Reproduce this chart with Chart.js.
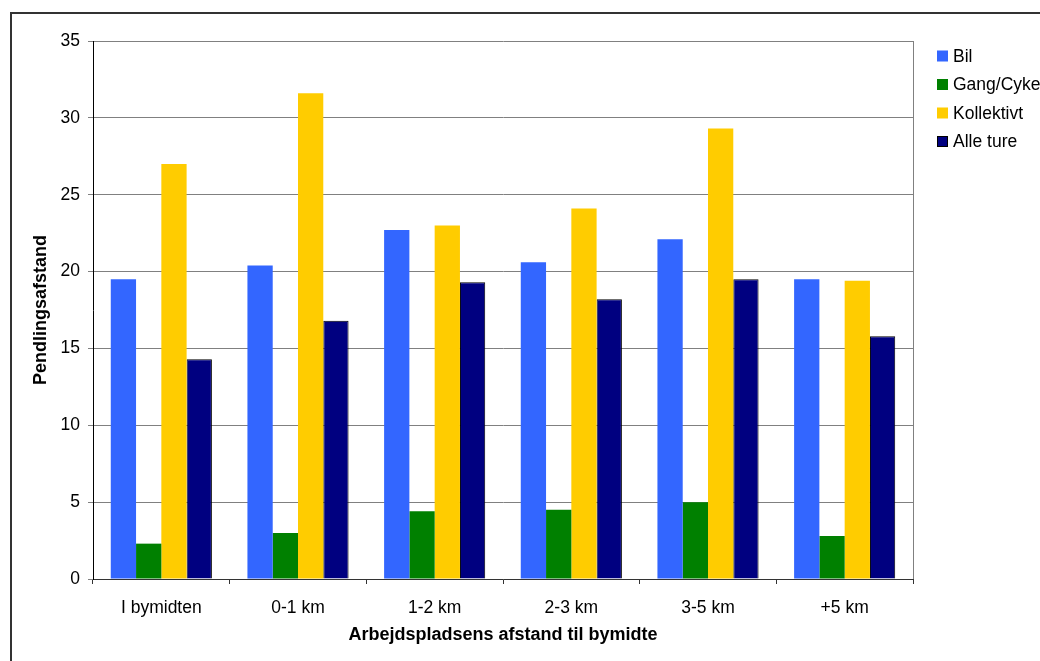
<!DOCTYPE html>
<html>
<head>
<meta charset="utf-8">
<script src="https://cdn.jsdelivr.net/npm/chart.js@4/dist/chart.umd.min.js"></script>
<style>
  html, body { margin: 0; padding: 0; background: #fff; }
  canvas { display: block; }
</style>
</head>
<body>
<canvas id="c" width="1040" height="661"></canvas>
<script>
// Pendlingsafstand fordelt på arbejdspladsens afstand til bymidten
const categories = ['I bymidten', '0-1 km', '1-2 km', '2-3 km', '3-5 km', '+5 km'];
const seriesNames = ['Bil', 'Gang/Cykel', 'Kollektivt', 'Alle ture'];
const bil        = [19.5, 20.4, 22.7, 20.6, 22.1, 19.5];
const gangCykel  = [2.3, 3.0, 4.4, 4.5, 5.0, 2.8];
const kollektivt = [27.0, 31.6, 23.0, 24.1, 29.3, 19.4];
const alleTure   = [14.3, 16.8, 19.3, 18.2, 19.5, 15.8];
const yTicks = [0, 5, 10, 15, 20, 25, 30, 35];

const colors = ['#3366FF', '#008000', '#FFCC00', '#000080'];
const borders = [0, 0, 0, 1];
const values = [bil, gangCykel, kollektivt, alleTure];

const FONT = "'Liberation Sans', Arial, sans-serif";
Chart.defaults.font.family = FONT;
Chart.defaults.font.size = 17.5;
Chart.defaults.color = '#000';

// Outer frame of the chart object
const framePlugin = {
  id: 'frame',
  beforeDraw(chart) {
    const ctx = chart.ctx;
    ctx.save();
    ctx.fillStyle = '#fff';
    ctx.fillRect(0, 0, chart.width, chart.height);
    ctx.strokeStyle = '#333';
    ctx.lineWidth = 2;
    ctx.strokeRect(11, 13, chart.width + 40, chart.height + 40);
    ctx.restore();
  }
};

// Right edge of the plot area
const plotEdgePlugin = {
  id: 'plotEdge',
  afterDraw(chart) {
    const { ctx, chartArea } = chart;
    ctx.save();
    ctx.strokeStyle = '#808080';
    ctx.lineWidth = 1;
    ctx.beginPath();
    ctx.moveTo(Math.round(chartArea.right) + 0.5, chartArea.top);
    ctx.lineTo(Math.round(chartArea.right) + 0.5, chartArea.bottom);
    ctx.stroke();
    ctx.restore();
  }
};

// Legend to the right of the plot area
const sideLegendPlugin = {
  id: 'sideLegend',
  afterDraw(chart) {
    const { ctx, chartArea } = chart;
    const x0 = chartArea.right + 24;
    ctx.save();
    ctx.font = '17.5px ' + FONT;
    ctx.textBaseline = 'middle';
    ctx.textAlign = 'left';
    chart.data.datasets.forEach((ds, i) => {
      const cy = chartArea.top + 15 + i * 28.5;
      ctx.fillStyle = ds.backgroundColor;
      ctx.fillRect(x0, cy - 5.5, 11, 11);
      if (ds.borderWidth > 0) {
        ctx.strokeStyle = '#000';
        ctx.lineWidth = 1;
        ctx.strokeRect(x0 + 0.5, cy - 5, 10, 10);
      }
      ctx.fillStyle = '#000';
      ctx.fillText(ds.label, x0 + 16, cy + 1);
    });
    ctx.restore();
  }
};

new Chart(document.getElementById('c'), {
  type: 'bar',
  data: {
    labels: categories,
    datasets: seriesNames.map((name, i) => ({
      label: name,
      data: values[i],
      backgroundColor: colors[i],
      borderColor: '#000',
      borderWidth: borders[i],
      categoryPercentage: 0.74,
      barPercentage: 1.0
    }))
  },
  options: {
    responsive: false,
    animation: false,
    layout: { padding: { top: 41, right: 127, left: 0, bottom: 0 } },
    plugins: {
      legend: { display: false },
      tooltip: { enabled: false }
    },
    scales: {
      x: {
        afterFit(scale) { scale.height = 82; },
        grid: { drawOnChartArea: false, drawTicks: true, tickLength: 5, tickColor: '#333', offset: true },
        border: { color: '#333', width: 1 },
        ticks: { padding: 14, color: '#000', font: { size: 17.5 } },
        title: {
          display: true,
          text: 'Arbejdspladsens afstand til bymidte',
          font: { size: 18, weight: 'bold' },
          padding: { top: 0, bottom: 15 }
        }
      },
      y: {
        min: yTicks[0],
        max: yTicks[yTicks.length - 1],
        afterFit(scale) { scale.width = 93; },
        afterBuildTicks(scale) { scale.ticks = yTicks.map(v => ({ value: v })); },
        grid: { color: '#808080', tickColor: '#808080', tickLength: 5, lineWidth: 1 },
        border: { color: '#000', width: 1 },
        ticks: { padding: 8, color: '#000', font: { size: 17.5 } },
        title: {
          display: true,
          text: 'Pendlingsafstand',
          font: { size: 18, weight: 'bold' },
          padding: { top: 30, bottom: 0 }
        }
      }
    }
  },
  plugins: [framePlugin, plotEdgePlugin, sideLegendPlugin]
});
</script>
</body>
</html>
